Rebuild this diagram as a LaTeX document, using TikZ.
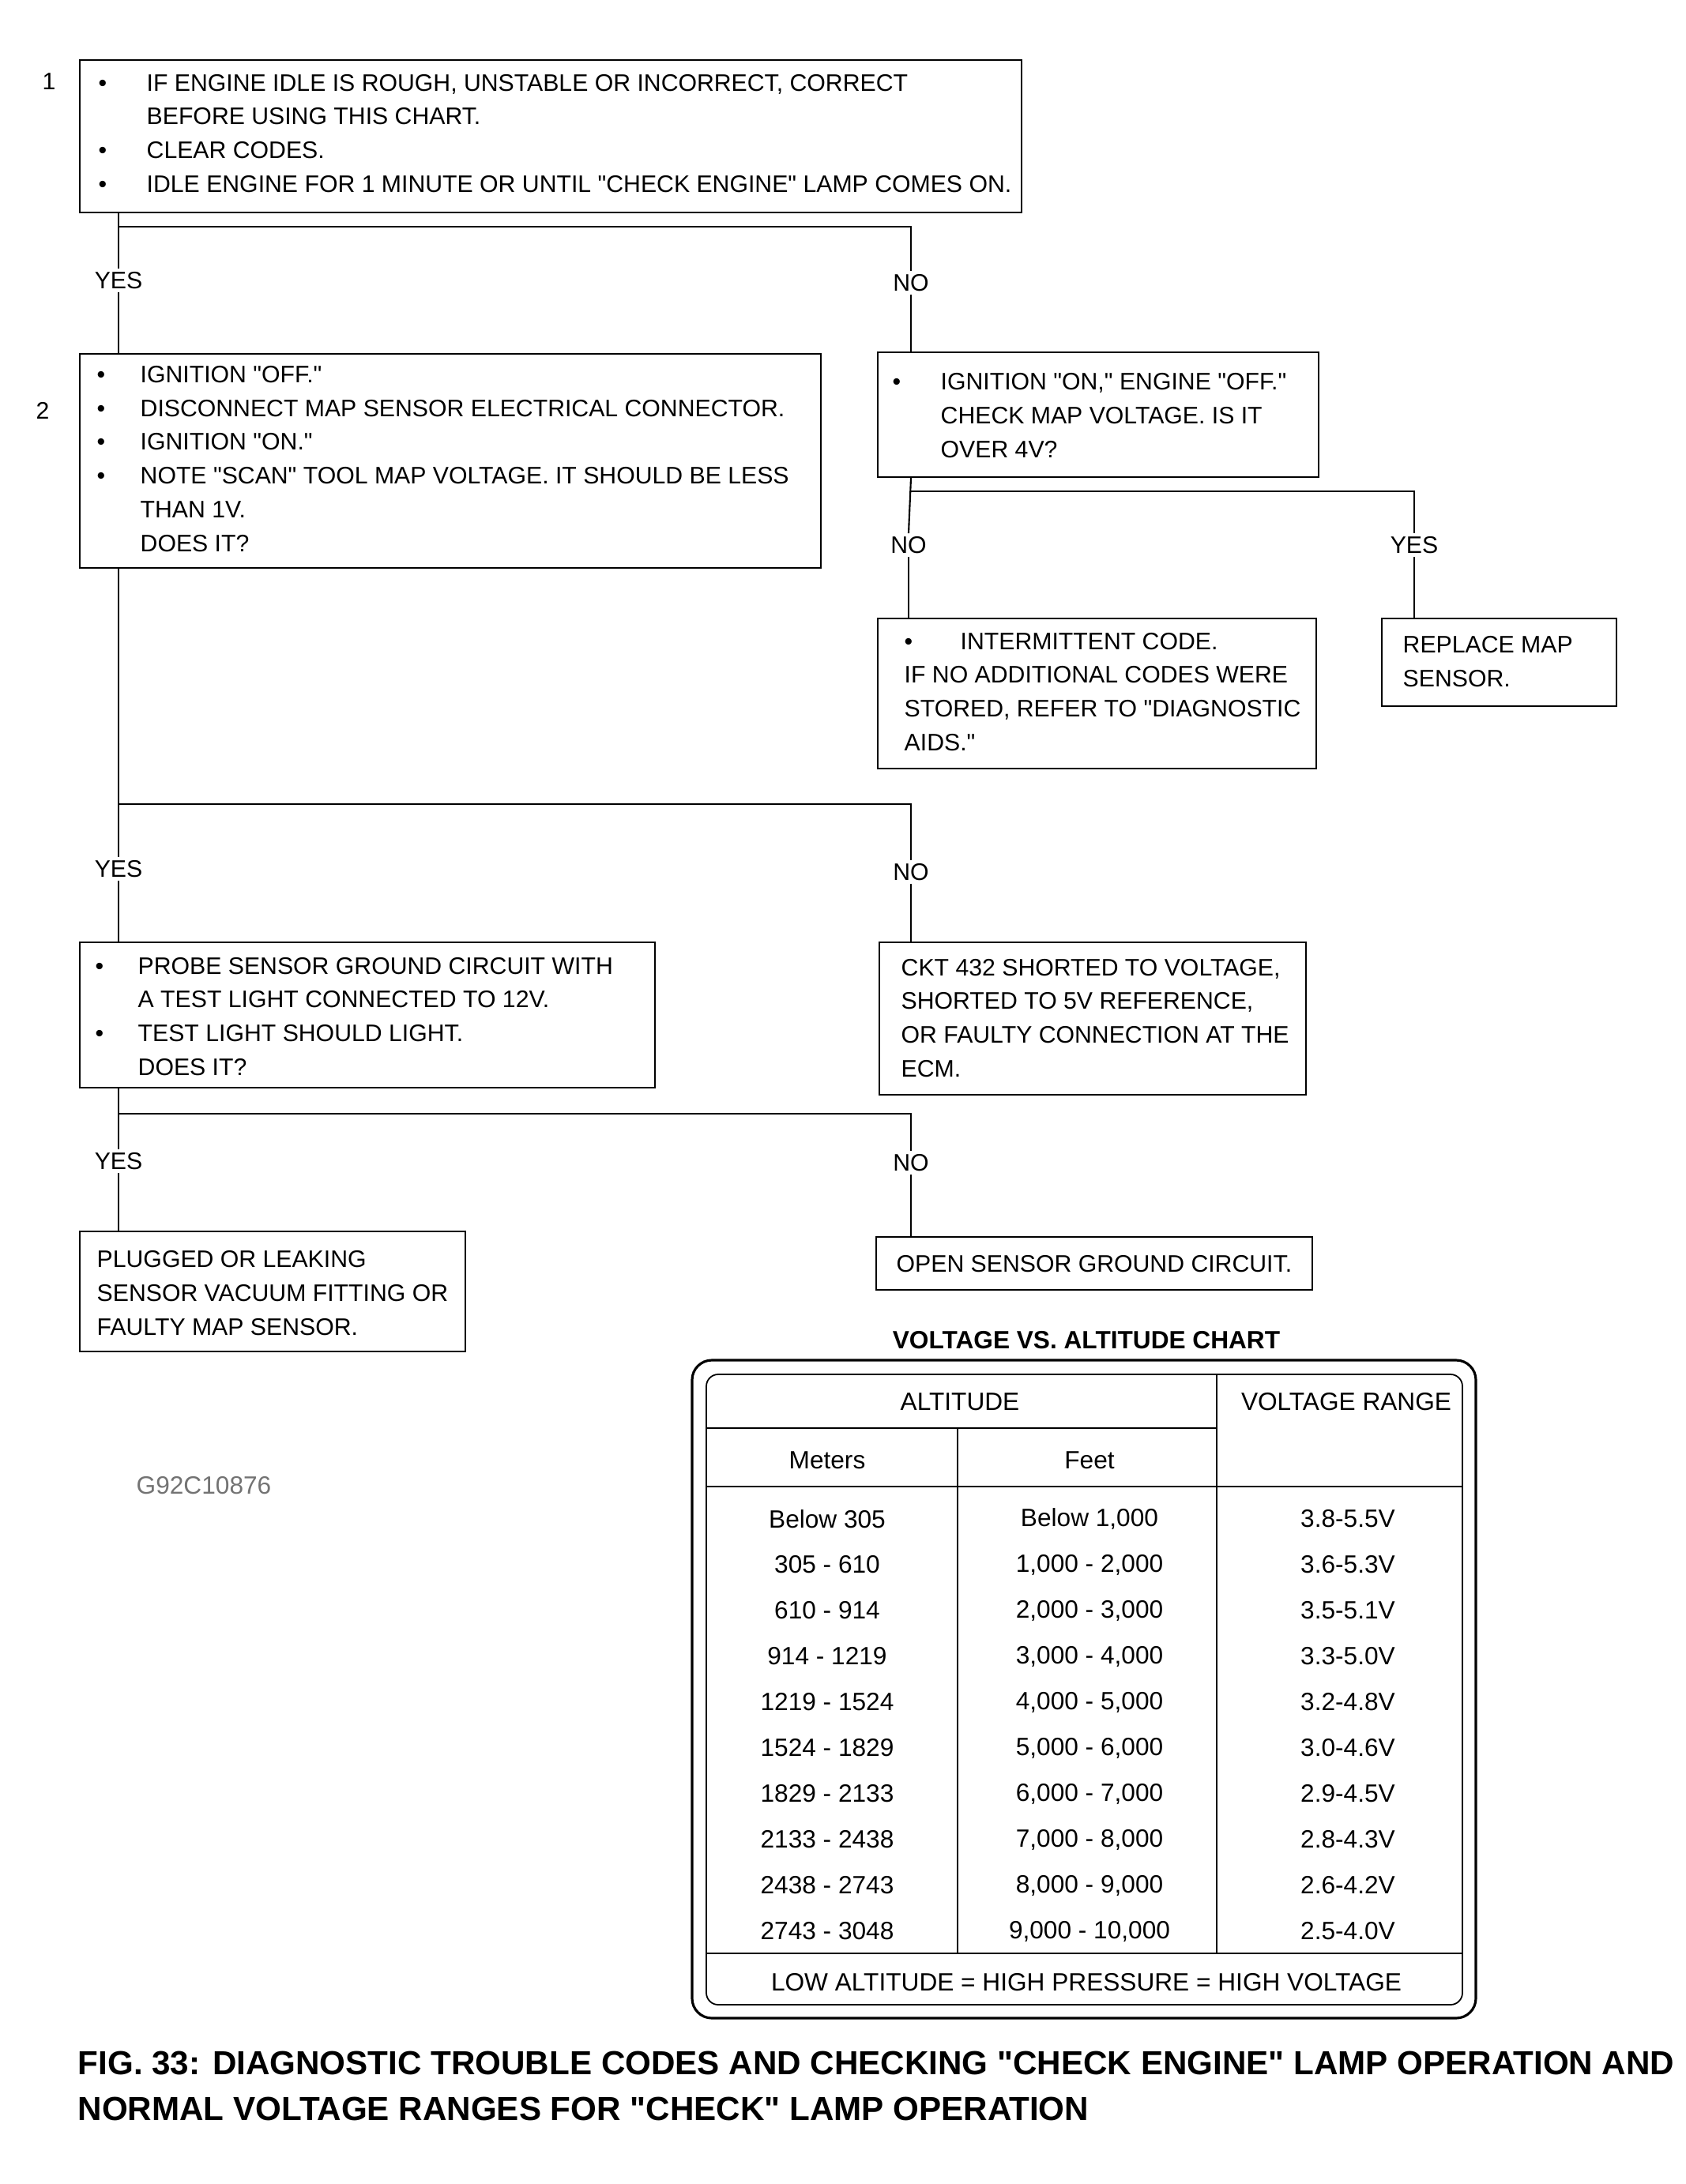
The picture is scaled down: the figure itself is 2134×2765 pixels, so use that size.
\documentclass[tikz,border=0pt]{standalone}
\usepackage{fontspec}
\setmainfont{Liberation Sans}[Ligatures=TeXOff]
\newcommand\boxfont{\fontsize{8.6}{12.2}\selectfont}
\newcommand\tabfont{\fontsize{9}{11}\selectfont}
\newcommand\mybul[1][5.5mm]{\makebox[#1][l]{\textbullet}}
\newcommand\myind[1][5.5mm]{\hspace*{#1}}
\begin{document}
\begin{tikzpicture}[x=0.1mm,y=-0.1mm,
  box/.style={draw, line width=0.6pt, anchor=north west, inner sep=0pt},
  txt/.style={anchor=west, inner sep=0pt, align=left, font=\boxfont},
  lab/.style={inner sep=1pt, font=\boxfont},
  conn/.style={line width=0.6pt},
  tline/.style={line width=0.5pt},
  cell/.style={inner sep=0pt, font=\tabfont}]
\useasboundingbox (0,0) rectangle (2134,2765);

% ---------- boxes ----------
\node[box, minimum width=119.2mm, minimum height=19.3mm] (b1) at (100,75) {};
\node[txt] (t1) at (124,169)
{\mybul[6.1mm]IF ENGINE IDLE IS ROUGH, UNSTABLE OR INCORRECT, CORRECT\\
 \myind[6.1mm]BEFORE USING THIS CHART.\\
 \mybul[6.1mm]CLEAR CODES.\\
 \mybul[6.1mm]IDLE ENGINE FOR 1 MINUTE OR UNTIL "CHECK ENGINE" LAMP COMES ON.};
\node[font=\boxfont] (s1) at (62,103) {1};

\node[box, minimum width=93.8mm, minimum height=27.1mm] (b2) at (100,447) {};
\node[txt] (t2) at (122,581)
{\mybul IGNITION "OFF."\\
 \mybul DISCONNECT MAP SENSOR ELECTRICAL CONNECTOR.\\
 \mybul IGNITION "ON."\\
 \mybul NOTE "SCAN" TOOL MAP VOLTAGE. IT SHOULD BE LESS\\
 \myind THAN 1V.\\
 \myind DOES IT?};
\node[font=\boxfont] (s2) at (54,520) {2};

\node[box, minimum width=55.8mm, minimum height=15.8mm] (r1) at (1110,445) {};
\node[txt] (tr1) at (1129,526)
{\mybul[6.1mm]IGNITION "ON," ENGINE "OFF."\\
 \myind[6.1mm]CHECK MAP VOLTAGE. IS IT\\
 \myind[6.1mm]OVER 4V?};

\node[box, minimum width=55.5mm, minimum height=19mm] (r2) at (1110,782) {};
\node[txt] (tr2) at (1144,876)
{\mybul[7.1mm]INTERMITTENT CODE.\\
 IF NO ADDITIONAL CODES WERE\\
 STORED, REFER TO "DIAGNOSTIC\\
 AIDS."};

\node[box, minimum width=29.7mm, minimum height=11.1mm] (r3) at (1748,782) {};
\node[txt] (tr3) at (1775,838) {REPLACE MAP\\ SENSOR.};

\node[box, minimum width=72.8mm, minimum height=18.4mm] (b3) at (100,1192) {};
\node[txt] (t3) at (120,1287)
{\mybul[5.4mm]PROBE SENSOR GROUND CIRCUIT WITH\\
 \myind[5.4mm]A TEST LIGHT CONNECTED TO 12V.\\
 \mybul[5.4mm]TEST LIGHT SHOULD LIGHT.\\
 \myind[5.4mm]DOES IT?};

\node[box, minimum width=54mm, minimum height=19.3mm] (b4) at (1112,1192) {};
\node[txt] (t4) at (1140,1289)
{CKT 432 SHORTED TO VOLTAGE,\\
 SHORTED TO 5V REFERENCE,\\
 OR FAULTY CONNECTION AT THE\\
 ECM.};

\node[box, minimum width=48.8mm, minimum height=15.2mm] (b5) at (100,1558) {};
\node[txt] (t5) at (122,1637)
{PLUGGED OR LEAKING\\
 SENSOR VACUUM FITTING OR\\
 FAULTY MAP SENSOR.};

\node[box, minimum width=55.2mm, minimum height=6.7mm] (b6) at (1108,1565) {};
\node[txt] (t6) at (1134,1600) {OPEN SENSOR GROUND CIRCUIT.};

% ---------- answer labels ----------
\node[lab] (y1) at (150,355) {YES};
\node[lab] (n1) at (1153,358) {NO};
\node[lab] (n2) at (1150,690) {NO};
\node[lab] (y2) at (1790,690) {YES};
\node[lab] (y3) at (150,1100) {YES};
\node[lab] (n3) at (1153,1104) {NO};
\node[lab] (y4) at (150,1470) {YES};
\node[lab] (n4) at (1153,1472) {NO};

% ---------- junctions ----------
\coordinate (j1) at (150,287);
\coordinate (j2) at (1153,622);
\coordinate (j3) at (150,1018);
\coordinate (j4) at (150,1410);

% ---------- connectors ----------
\draw[conn] (b1.south -| j1) -- (y1.north);
\draw[conn] (y1.south) -- (b2.north -| y1);
\draw[conn] (j1) -| (n1.north);
\draw[conn] (n1.south) -- (r1.north -| n1);

\draw[conn] (r1.south -| j2) -- (n2.north);
\draw[conn] (n2.south) -- (r2.north -| n2);
\draw[conn] (j2) -| (y2.north);
\draw[conn] (y2.south) -- (r3.north -| y2);

\draw[conn] (b2.south -| j3) -- (y3.north);
\draw[conn] (y3.south) -- (b3.north -| y3);
\draw[conn] (j3) -| (n3.north);
\draw[conn] (n3.south) -- (b4.north -| n3);

\draw[conn] (b3.south -| j4) -- (y4.north);
\draw[conn] (y4.south) -- (b5.north -| y4);
\draw[conn] (j4) -| (n4.north);
\draw[conn] (n4.south) -- (b6.north -| n4);

% ---------- figure code ----------
\node[font=\fontsize{9}{11}\selectfont, text=black!55] (code) at (258,1881) {G92C10876};

% ---------- table ----------
\node[font=\bfseries\tabfont] (ttl) at (1375,1697) {VOLTAGE VS. ALTITUDE CHART};
\draw[line width=0.9pt, rounded corners=2.5mm] (876,1722) rectangle (1868,2555);
\draw[tline, rounded corners=1.5mm] (894,1740) rectangle (1851,2538);
\draw[tline] (894,1808) -- (1540,1808);
\draw[tline] (894,1882) -- (1851,1882);
\draw[tline] (894,2473) -- (1851,2473);
\draw[tline] (1212,1808) -- (1212,2473);
\draw[tline] (1540,1740) -- (1540,2473);

\node[cell] (hA) at (1215,1775) {ALTITUDE};
\node[cell] (hV) at (1704,1775) {VOLTAGE RANGE};
\node[cell] (hM) at (1047,1849) {Meters};
\node[cell] (hF) at (1379,1849) {Feet};

\foreach \m/\f/\v [count=\i from 0] in {
  Below 305/Below 1{,}000/3.8-5.5V,
  305 - 610/1{,}000 - 2{,}000/3.6-5.3V,
  610 - 914/2{,}000 - 3{,}000/3.5-5.1V,
  914 - 1219/3{,}000 - 4{,}000/3.3-5.0V,
  1219 - 1524/4{,}000 - 5{,}000/3.2-4.8V,
  1524 - 1829/5{,}000 - 6{,}000/3.0-4.6V,
  1829 - 2133/6{,}000 - 7{,}000/2.9-4.5V,
  2133 - 2438/7{,}000 - 8{,}000/2.8-4.3V,
  2438 - 2743/8{,}000 - 9{,}000/2.6-4.2V,
  2743 - 3048/9{,}000 - 10{,}000/2.5-4.0V} {
  \node[cell] (m\i) at (1047,1923+58*\i) {\m};
  \node[cell] (f\i) at (1379,1923+58*\i) {\f};
  \node[cell] (v\i) at (1706,1923+58*\i) {\v};
}
\node[cell] (low) at (1375,2510) {LOW ALTITUDE = HIGH PRESSURE = HIGH VOLTAGE};

% ---------- caption ----------
\node[anchor=west, inner sep=0pt, font=\bfseries\fontsize{12}{14}\selectfont] (cap1) at (98,2612)
{FIG. 33: DIAGNOSTIC TROUBLE CODES AND CHECKING "CHECK ENGINE" LAMP OPERATION AND};
\node[anchor=west, inner sep=0pt, font=\bfseries\fontsize{12}{14}\selectfont] (cap2) at (98,2670)
{NORMAL VOLTAGE RANGES FOR "CHECK" LAMP OPERATION};
\end{tikzpicture}
\end{document}
